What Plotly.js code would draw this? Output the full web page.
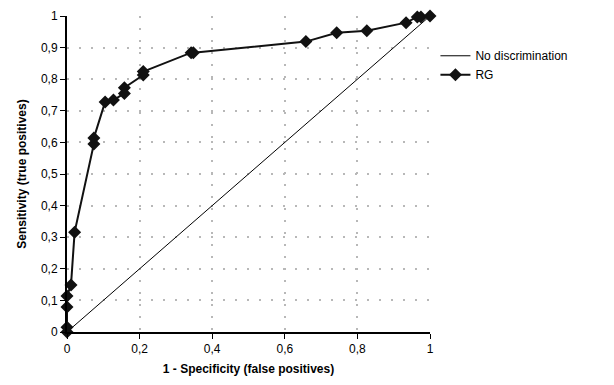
<!DOCTYPE html>
<html><head><meta charset="utf-8">
<script src="https://cdn.plot.ly/plotly-3.0.1.min.js"></script>
<style>body{margin:0;background:#fff}#c{width:614px;height:385px}</style>
</head><body><div id="c"></div>
<script>
const diagX = [0, 1];
const diagY = [0, 1];
const rgX = [0, 0, 0, 0, 0.011, 0.021, 0.074, 0.074, 0.105, 0.128, 0.158, 0.158, 0.21, 0.21, 0.342, 0.348, 0.658, 0.743, 0.826, 0.934, 0.965, 0.975, 1];
const rgY = [0, 0.015, 0.079, 0.114, 0.149, 0.316, 0.595, 0.614, 0.728, 0.734, 0.755, 0.773, 0.813, 0.824, 0.884, 0.884, 0.919, 0.947, 0.953, 0.979, 0.997, 0.997, 1];
const xTicks = [0, 0.2, 0.4, 0.6, 0.8, 1];
const yTicks = [0, 0.1, 0.2, 0.3, 0.4, 0.5, 0.6, 0.7, 0.8, 0.9, 1];
const xTickText = ['0', '0,2', '0,4', '0,6', '0,8', '1'];
const yTickText = ['0', '0,1', '0,2', '0,3', '0,4', '0,5', '0,6', '0,7', '0,8', '0,9', '1'];

const traces = [
  {x: diagX, y: diagY, mode: 'lines', name: 'No discrimination',
   line: {color: '#000', width: 1}},
  {x: rgX, y: rgY, mode: 'lines+markers', name: 'RG',
   line: {color: '#111', width: 2},
   marker: {symbol: 'diamond', size: 10, color: '#111'}, cliponaxis: false}
];
const font = {family: '"Liberation Sans", Arial, sans-serif', size: 12, color: '#000'};
const layout = {
  width: 614, height: 385,
  margin: {l: 67, r: 184, t: 16, b: 53},
  paper_bgcolor: '#fff', plot_bgcolor: '#fff',
  font: font,
  showlegend: true,
  legend: {x: 1.015, y: 0.92, xanchor: 'left', yanchor: 'top', font: font, tracegroupgap: 0, itemwidth: 30, bgcolor: 'rgba(0,0,0,0)'},
  xaxis: {range: [0, 1], tickvals: xTicks, ticktext: xTickText, ticks: 'outside', ticklen: 5, tickcolor: '#000',
    showline: true, linecolor: '#000', linewidth: 2, zeroline: false,
    showgrid: true, gridcolor: '#b8b8b8', griddash: '2px,10px', gridwidth: 2,
    title: {text: '<b>1 - Specificity (false positives)</b>', font: font, standoff: 9}, fixedrange: true},
  yaxis: {range: [0, 1], tickvals: yTicks, ticktext: yTickText, ticks: 'outside', ticklen: 5, tickcolor: '#000',
    showline: true, linecolor: '#000', linewidth: 2, zeroline: false,
    showgrid: true, gridcolor: '#b8b8b8', griddash: '2px,10px', gridwidth: 2,
    title: {text: '<b>Sensitivity (true positives)</b>', font: font, standoff: 12}, fixedrange: true}
};
Plotly.newPlot('c', traces, layout, {staticPlot: true});
</script></body></html>
